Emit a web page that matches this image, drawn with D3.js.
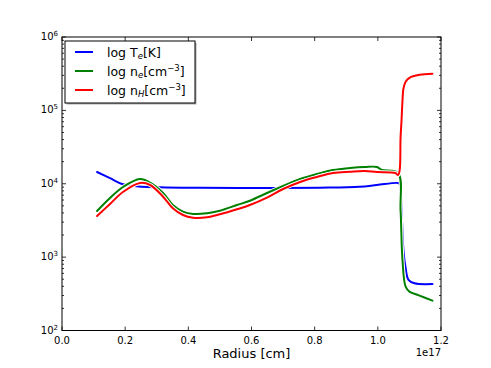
<!DOCTYPE html>
<html>
<head>
<meta charset="utf-8">
<script src="https://cdn.jsdelivr.net/npm/d3@7"></script>
<style>
  body { margin: 0; background: #fff; }
  text { font-family: "DejaVu Sans", sans-serif; }
</style>
</head>
<body>
<script>
const W = 491, H = 368;
const FONT = '"DejaVu Sans", sans-serif';

// radius in units of 1e17 cm
const radiusT = [0.111, 0.152, 0.19, 0.224, 0.31, 0.436, 0.626, 0.816, 0.942, 0.997, 1.064, 1.069, 1.075, 1.081, 1.088, 1.097, 1.116, 1.173];
const tempK   = [14450, 11900, 9930, 9320, 8950, 8800, 8750, 8850, 9100, 9600, 10240, 9900, 4400, 1250, 714, 490, 440, 430];

const radiusE = [0.111, 0.152, 0.193, 0.247, 0.279, 0.320, 0.351, 0.383, 0.415, 0.459, 0.500, 0.554, 0.595, 0.649, 0.700, 0.754, 0.807, 0.858, 0.912, 0.959, 0.997, 1.013, 1.064, 1.072, 1.078, 1.088, 1.1, 1.132, 1.173];
const neVals  = [4256, 6397, 9033, 11610, 10330, 7483, 5130, 4160, 3871, 3956, 4292, 5130, 5875, 7483, 9317, 11610, 13580, 15390, 16390, 16920, 16920, 15390, 14020, 4370, 918, 395, 339, 299, 255];

const radiusH = [0.111, 0.152, 0.193, 0.247, 0.279, 0.320, 0.351, 0.383, 0.415, 0.459, 0.500, 0.554, 0.595, 0.649, 0.700, 0.754, 0.807, 0.858, 0.912, 0.959, 0.997, 1.055, 1.064, 1.069, 1.072, 1.075, 1.078, 1.081, 1.088, 1.1, 1.132, 1.173];
const nhVals  = [3632, 5300, 7724, 10240, 9617, 6663, 4627, 3750, 3447, 3490, 3835, 4485, 5130, 6452, 8480, 10570, 12360, 14020, 14600, 14920, 14450, 14030, 13150, 15200, 42700, 72400, 135000, 197000, 245000, 278000, 305000, 315000];

const xTicks = [0.0, 0.2, 0.4, 0.6, 0.8, 1.0, 1.2];
const yExponents = [2, 3, 4, 5, 6];

const seriesList = [
  { name: 'T', color: '#0000ff', xs: radiusT, ys: tempK },
  { name: 'ne', color: '#008000', xs: radiusE, ys: neVals },
  { name: 'nH', color: '#ff0000', xs: radiusH, ys: nhVals },
];

const margin = { left: 62, right: 50, top: 37, bottom: 37.5 };
const pw = W - margin.left - margin.right;
const ph = H - margin.top - margin.bottom;

const svg = d3.select('body').append('svg')
  .attr('width', W).attr('height', H)
  .style('display', 'block');

const x = d3.scaleLinear().domain([0, 1.2]).range([margin.left, margin.left + pw]);
const y = d3.scaleLog().domain([1e2, 1e6]).range([margin.top + ph, margin.top]);

svg.append('defs').append('clipPath').attr('id', 'plotclip')
  .append('rect').attr('x', margin.left).attr('y', margin.top).attr('width', pw).attr('height', ph);

// lines, each with a thin white halo under it
const line = d3.line().curve(d3.curveCatmullRom.alpha(0.5));
const plot = svg.append('g').attr('clip-path', 'url(#plotclip)');
seriesList.forEach(s => {
  const pts = s.xs.map((r, i) => [x(r), y(s.ys[i])]);
  plot.append('path').attr('d', line(pts))
    .attr('fill', 'none').attr('stroke', '#fff').attr('stroke-width', 4)
    .attr('stroke-linejoin', 'round').attr('stroke-linecap', 'round');
  plot.append('path').attr('d', line(pts))
    .attr('fill', 'none').attr('stroke', s.color).attr('stroke-width', 2)
    .attr('stroke-linejoin', 'round').attr('stroke-linecap', 'round');
});

// ticks
const tickG = svg.append('g').attr('stroke', '#000').attr('stroke-width', 0.8);
const x0 = margin.left, x1 = margin.left + pw, y0 = margin.top, y1 = margin.top + ph;
xTicks.forEach(t => {
  const px = x(t);
  tickG.append('line').attr('x1', px).attr('x2', px).attr('y1', y1).attr('y2', y1 - 4);
  tickG.append('line').attr('x1', px).attr('x2', px).attr('y1', y0).attr('y2', y0 + 4);
});
yExponents.forEach(e => {
  const py = y(Math.pow(10, e));
  tickG.append('line').attr('x1', x0).attr('x2', x0 + 4).attr('y1', py).attr('y2', py);
  tickG.append('line').attr('x1', x1).attr('x2', x1 - 4).attr('y1', py).attr('y2', py);
  if (e < 6) {
    for (let m = 2; m <= 9; m++) {
      const my = y(m * Math.pow(10, e));
      tickG.append('line').attr('x1', x0).attr('x2', x0 + 2).attr('y1', my).attr('y2', my);
      tickG.append('line').attr('x1', x1).attr('x2', x1 - 2).attr('y1', my).attr('y2', my);
    }
  }
});

// frame
svg.append('rect').attr('x', x0).attr('y', y0).attr('width', pw).attr('height', ph)
  .attr('fill', 'none').attr('stroke', '#000').attr('stroke-width', 1);

// tick labels
xTicks.forEach(t => {
  svg.append('text').attr('x', x(t)).attr('y', y1 + 13)
    .attr('text-anchor', 'middle').attr('font-size', 10).attr('font-family', FONT)
    .text(t.toFixed(1));
});
yExponents.forEach(e => {
  const tx = svg.append('text').attr('x', x0 - 4).attr('y', y(Math.pow(10, e)) + 3)
    .attr('text-anchor', 'end').attr('font-size', 10).attr('font-family', FONT);
  tx.append('tspan').text('10');
  tx.append('tspan').attr('dy', -4).attr('font-size', 7).text(e);
});

svg.append('text').attr('x', x1).attr('y', y1 + 25)
  .attr('text-anchor', 'end').attr('font-size', 10).attr('font-family', FONT).text('1e17');

svg.append('text').attr('x', (x0 + x1) / 2).attr('y', y1 + 27)
  .attr('text-anchor', 'middle').attr('font-size', 13).attr('font-family', FONT).text('Radius [cm]');

// legend
const lg = svg.append('g');
lg.append('rect').attr('x', 66.5).attr('y', 42.5).attr('width', 130).attr('height', 62).attr('fill', '#aaa');
lg.append('rect').attr('x', 65).attr('y', 41).attr('width', 130).attr('height', 62)
  .attr('fill', '#fff').attr('stroke', '#000').attr('stroke-width', 1);
const legendRows = [
  { color: '#0000ff', parts: [['log T', 0], ['e', 1], ['[K]', 0]] },
  { color: '#008000', parts: [['log n', 0], ['e', 1], ['[cm', 0], ['\u22123', 2], [']', 0]] },
  { color: '#ff0000', parts: [['log n', 0], ['H', 1], ['[cm', 0], ['\u22123', 2], [']', 0]] },
];
legendRows.forEach((row, i) => {
  const ly = 52 + i * 19;
  lg.append('line').attr('x1', 75).attr('x2', 93).attr('y1', ly).attr('y2', ly)
    .attr('stroke', row.color).attr('stroke-width', 2);
  const t = lg.append('text').attr('x', 107).attr('y', ly + 4.5)
    .attr('font-size', 12.5).attr('font-family', FONT);
  let shift = 0;
  row.parts.forEach(([s, kind]) => {
    const sp = t.append('tspan').text(s);
    const target = kind === 1 ? 2.5 : kind === 2 ? -4.5 : 0;
    if (target !== shift) sp.attr('dy', target - shift);
    shift = target;
    if (kind === 1) sp.attr('font-size', 8.5).attr('font-style', 'italic');
    if (kind === 2) sp.attr('font-size', 8.5);
  });
});
</script>
</body>
</html>
